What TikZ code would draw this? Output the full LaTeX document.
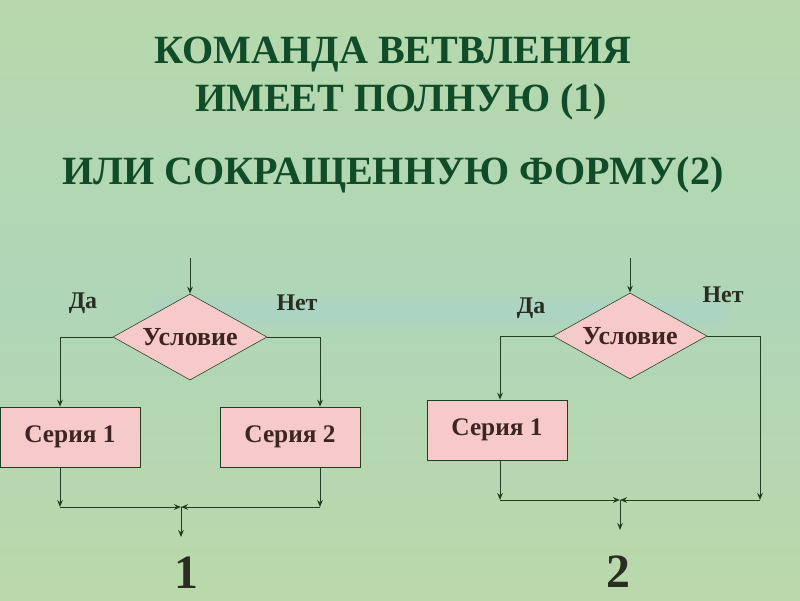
\documentclass[tikz,border=0pt]{standalone}
\usepackage{fontspec}
\setmainfont{Liberation Serif}
\usetikzlibrary{shapes.geometric,arrows.meta}

\definecolor{bgtop}{RGB}{182,216,172}
\definecolor{bgmid}{RGB}{176,214,184}
\definecolor{bgbot}{RGB}{186,216,170}
\definecolor{bgband}{RGB}{168,212,214}
\definecolor{titlegreen}{RGB}{16,76,40}
\definecolor{boxpink}{RGB}{246,202,200}
\definecolor{inkbrown}{RGB}{62,36,34}
\definecolor{linegreen}{RGB}{34,62,34}
\definecolor{labelink}{RGB}{40,46,32}

\begin{document}
\begin{tikzpicture}[x=0.025cm,y=-0.025cm,
  cond/.style={diamond,draw=linegreen,fill=boxpink,inner sep=0pt,aspect=1.78,
    minimum width=3.85cm,minimum height=2.15cm,text=inkbrown,
    font=\bfseries\fontsize{18.5}{20}\selectfont},
  seria/.style={rectangle,draw=linegreen,fill=boxpink,minimum width=3.5cm,
    minimum height=1.5cm,text=inkbrown,font=\bfseries\fontsize{18}{20}\selectfont},
  yesno/.style={text=labelink,font=\bfseries\fontsize{17}{20}\selectfont},
  num/.style={text=labelink,font=\bfseries\fontsize{34}{36}\selectfont},
  title/.style={text=titlegreen,font=\bfseries\fontsize{28.5}{30}\selectfont},
  flow/.style={draw=linegreen,line width=0.7pt,-{Stealth[length=5pt,width=4pt]}}]
% background
\shade[top color=bgtop,bottom color=bgbot,middle color=bgmid] (0,0) rectangle (800,600);
\foreach \d in {0,4,8}
  \fill[bgband,opacity=0.15,rounded corners=8pt] (150+\d,296+\d) rectangle (730-\d,328-\d);
\useasboundingbox (0,0) rectangle (800,600);

% title
\node[title] (t1) at (393,55) {КОМАНДА ВЕТВЛЕНИЯ};
\node[title] (t2) at (401,102) {ИМЕЕТ ПОЛНУЮ (1)};
\node[title] (t3) at (393,175) {ИЛИ СОКРАЩЕННУЮ ФОРМУ(2)};

% full form
\coordinate (inA) at (190,258);
\node[cond] (condA) at (190,337) {Условие};
\node[seria] (s1A) at (70,437) {Серия 1};
\node[seria] (s2A) at (290,437) {Серия 2};
\coordinate (dA1) at (60,0);
\coordinate (dA2) at (320,0);
\coordinate (joinA) at (181,507);
\coordinate (outA) at (181,537);
\node[yesno] (daA) at (83,303) {Да};
\node[yesno] (netA) at (297,303) {Нет};
\draw[flow] (inA) -- (condA.north);
\draw[flow] (condA.west) -| (dA1 |- s1A.north);
\draw[flow] (condA.east) -| (dA2 |- s2A.north);
\draw[flow] (dA1 |- s1A.south) -- (dA1 |- joinA);
\draw[flow] (dA2 |- s2A.south) -- (dA2 |- joinA);
\draw[flow] (dA1 |- joinA) -- (joinA);
\draw[flow] (dA2 |- joinA) -- (joinA);
\draw[flow] (joinA) -- (outA);
\node[num] (numA) at (186,573) {1};

% short form
\coordinate (inB) at (630,258);
\node[cond] (condB) at (630,336) {Условие};
\node[seria] (s1B) at (497,430) {Серия 1};
\coordinate (dB1) at (500,0);
\coordinate (dB2) at (760,0);
\coordinate (joinB) at (620,500);
\coordinate (outB) at (620,530);
\node[yesno] (daB) at (531,308) {Да};
\node[yesno] (netB) at (723,295) {Нет};
\draw[flow] (inB) -- (condB.north);
\draw[flow] (condB.west) -| (dB1 |- s1B.north);
\draw[flow] (condB.east) -| (dB2 |- joinB);
\draw[flow] (dB1 |- s1B.south) -- (dB1 |- joinB);
\draw[flow] (dB1 |- joinB) -- (joinB);
\draw[flow] (dB2 |- joinB) -- (joinB);
\draw[flow] (joinB) -- (outB);
\node[num] (numB) at (618,572) {2};
\end{tikzpicture}
\end{document}
